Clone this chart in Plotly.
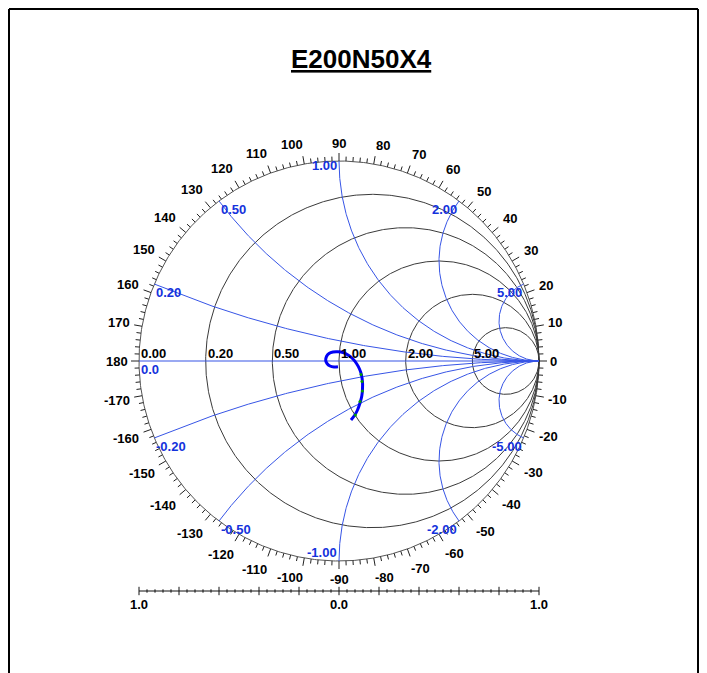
import numpy as np
import plotly.graph_objects as go

# ---------------- data ----------------
title_text = "E200N50X4"
resistance_values = [0.0, 0.2, 0.5, 1.0, 2.0, 5.0]
resistance_labels = ["0.00", "0.20", "0.50", "1.00", "2.00", "5.00"]
reactance_values = [0.2, 0.5, 1.0, 2.0, 5.0, -0.2, -0.5, -1.0, -2.0, -5.0]
reactance_labels = ["0.20", "0.50", "1.00", "2.00", "5.00",
                    "-0.20", "-0.50", "-1.00", "-2.00", "-5.00"]
angle_labels_deg = [0, 10, 20, 30, 40, 50, 60, 70, 80, 90, 100, 110, 120, 130, 140,
                    150, 160, 170, 180, -10, -20, -30, -40, -50, -60, -70, -80, -90,
                    -100, -110, -120, -130, -140, -150, -160, -170]
scale_positions = [-1.0, 0.0, 1.0]
scale_labels = ["1.0", "0.0", "1.0"]

# measured reflection coefficient (real / imaginary part)
gamma_re = [-0.005, -0.025, -0.045, -0.06, -0.0665, -0.0625, -0.05, -0.03, -0.005,
            0.02, 0.045, 0.0675, 0.0875, 0.1025, 0.1125, 0.1175, 0.1175, 0.114,
            0.105, 0.0925, 0.0775, 0.06]
gamma_im = [-0.0285, -0.03, -0.025, -0.0125, 0.0025, 0.0225, 0.0375, 0.045, 0.046,
            0.0425, 0.03, 0.0125, -0.0125, -0.04, -0.07, -0.105, -0.14, -0.175,
            -0.21, -0.245, -0.2725, -0.295]
marker_re = [0.11, 0.115, 0.117, 0.105, 0.082]
marker_im = [-0.067, -0.103, -0.15, -0.203, -0.27]

# ---------------- styling ----------------
W, H = 707, 673
OFF = 8                              # page margin of the browser
CX, CY, R = 339 - OFF, 361 - OFF, 200  # chart centre / radius in figure pixels
PX = 1.0 / R                         # one pixel in data units
BLACK_GRID = "#3a3a3a"
BLUE_GRID = "rgb(55,85,230)"
BLUE_TEXT = "rgb(20,50,220)"
FONT = "Liberation Sans, Arial, sans-serif"

fig = go.Figure()

# resistance circles (black)
t = np.linspace(0, 2 * np.pi, 721)
for r in resistance_values:
    c = r / (1 + r)
    rad = 1 / (1 + r)
    fig.add_trace(go.Scatter(x=c + rad * np.cos(t), y=rad * np.sin(t), mode="lines",
                             line=dict(color=BLACK_GRID if r > 0 else "#555555", width=1),
                             hoverinfo="skip"))

# reactance arcs (blue)
rr = np.concatenate([[0.0], np.logspace(-3, 4, 800)])
for xv in reactance_values:
    z = rr + 1j * xv
    g = (z - 1) / (z + 1)
    fig.add_trace(go.Scatter(x=g.real, y=g.imag, mode="lines",
                             line=dict(color=BLUE_GRID, width=1), hoverinfo="skip"))
# real axis
fig.add_trace(go.Scatter(x=[-1, 1], y=[0, 0], mode="lines",
                         line=dict(color=BLUE_GRID, width=1.2), hoverinfo="skip"))

# angle ticks around the rim
tx, ty = [], []
for d in range(-180, 180, 2):
    a = np.deg2rad(d)
    L = 8 if d % 10 == 0 else 4.5
    tx += [np.cos(a), (1 + L * PX) * np.cos(a), None]
    ty += [np.sin(a), (1 + L * PX) * np.sin(a), None]
fig.add_trace(go.Scatter(x=tx, y=ty, mode="lines", line=dict(color="#222222", width=1),
                         hoverinfo="skip"))

# bottom radial scale
ys = (361 - 591) * PX
sx, sy = [-1, 1, None], [ys, ys, None]
for k in range(-25, 26):
    v = k * 0.04
    h = 4.2 * PX if k % 5 == 0 else 1.7 * PX
    sx += [v, v, None]
    sy += [ys - h, ys + h, None]
fig.add_trace(go.Scatter(x=sx, y=sy, mode="lines", line=dict(color="#111111", width=1),
                         hoverinfo="skip"))

# measured trace
fig.add_trace(go.Scatter(x=gamma_re, y=gamma_im, mode="lines",
                         line=dict(color="rgb(0,0,245)", width=3, shape="spline"),
                         hoverinfo="skip"))
fig.add_trace(go.Scatter(x=marker_re, y=marker_im, mode="markers",
                         marker=dict(color="rgb(0,160,0)", size=3), hoverinfo="skip"))

ann = []
lab_font = dict(family=FONT, size=13, color="black")
# angle labels
for d in angle_labels_deg:
    s = str(d)
    w = sum(4.3 if ch == "-" else 7.2 for ch in s)
    a = np.deg2rad(d)
    ca, sa = np.cos(a), np.sin(a)
    rp = 211 + w / 2 * abs(ca) + 7 * abs(sa)
    shift = np.sign(round(ca, 6)) * (w / 2) * (1 - abs(ca))
    ann.append(dict(x=rp * PX * ca + shift * PX, y=rp * PX * sa, text="<b>%s</b>" % s,
                    showarrow=False, xanchor="center", yanchor="middle", font=lab_font))

# resistance labels
for r, s in zip(resistance_values, resistance_labels):
    ann.append(dict(x=(r - 1) / (r + 1), y=0, text="<b>%s</b>" % s, showarrow=False,
                    xanchor="left", yanchor="bottom", xshift=0, yshift=-2,
                    font=dict(family=FONT, size=13, color="black")))
ann.append(dict(x=-1, y=0, text="<b>0.0</b>", showarrow=False, xanchor="left",
                yanchor="top", yshift=1, font=dict(family=FONT, size=13, color=BLUE_TEXT)))

# reactance labels
for xv, s in zip(reactance_values, reactance_labels):
    gx = (xv * xv - 1) / (xv * xv + 1)
    gy = 2 * xv / (xv * xv + 1)
    xa = "left" if abs(xv) < 1 else "right"
    ya = "bottom" if xv == -1.0 else "top"
    dy = 1 if ya == "top" else -1
    if xv == 1.0:
        dy = 5
    ann.append(dict(x=gx, y=gy, text="<b>%s</b>" % s, showarrow=False, xanchor=xa,
                    yanchor=ya, yshift=dy,
                    font=dict(family=FONT, size=13, color=BLUE_TEXT)))

# scale labels
for v, s in zip(scale_positions, scale_labels):
    ann.append(dict(x=v, y=ys - 4 * PX, text="<b>%s</b>" % s, showarrow=False,
                    xanchor="center", yanchor="top", font=lab_font))

# title
ann.append(dict(x=(361.5 - OFF) / W, y=1 - (59 - OFF) / H, xref="paper", yref="paper",
                text="<b><u>%s</u></b>" % title_text, showarrow=False,
                xanchor="center", yanchor="middle",
                font=dict(family=FONT, size=26, color="black")))

xl, xr, yt = 1 / W, (698 - OFF) / W, 1 - 1 / H
shapes = [
    dict(type="line", xref="paper", yref="paper", x0=xl, x1=xr, y0=yt, y1=yt,
         line=dict(color="black", width=2)),
    dict(type="line", xref="paper", yref="paper", x0=xl, x1=xl, y0=yt, y1=-0.01,
         line=dict(color="black", width=2)),
    dict(type="line", xref="paper", yref="paper", x0=xr, x1=xr, y0=yt, y1=-0.01,
         line=dict(color="black", width=2)),
]

fig.update_layout(
    width=W, height=H, margin=dict(l=0, r=0, t=0, b=0),
    paper_bgcolor="white", plot_bgcolor="white", showlegend=False,
    xaxis=dict(range=[(0 - CX) * PX, (W - CX) * PX], visible=False, fixedrange=True),
    yaxis=dict(range=[(CY - H) * PX, CY * PX], visible=False, fixedrange=True),
    annotations=ann, shapes=shapes,
)

fig.write_html("out.html")
